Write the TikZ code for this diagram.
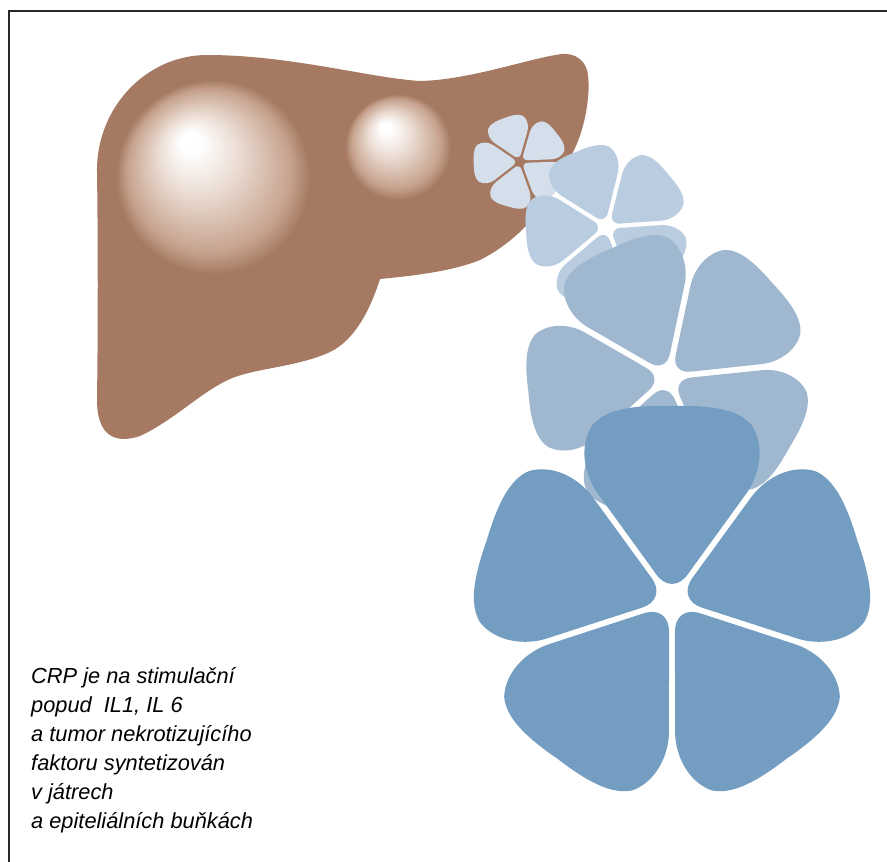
\documentclass[tikz,border=0pt]{standalone}
\usepackage{fontspec}
\setmainfont{Liberation Sans}

\definecolor{liver}{RGB}{166,122,98}
\definecolor{spotmid}{RGB}{236,222,213}
\definecolor{spotout}{RGB}{198,162,142}
\definecolor{pone}{RGB}{213,223,235}
\definecolor{ptwo}{RGB}{185,204,224}
\definecolor{pthree}{RGB}{159,184,208}
\definecolor{pfour}{RGB}{116,157,194}
\definecolor{framec}{RGB}{40,40,40}

% glossy spot on the liver: bright highlight up and to the left;
% the outer stop (25bp) coincides with the rim of the shaded circle
\pgfdeclareradialshading{spot}{\pgfpoint{-6.5bp}{10bp}}{%
  color(0bp)=(white); color(2.5bp)=(white); color(10bp)=(spotmid);
  color(21bp)=(spotout); color(25bp)=(liver)}

% one rounded, triangular subunit; its tip points at the centre of the ring
\newcommand{\petal}[5]{% centre, angle (clockwise from up), scale, outward offset, colour
  \begin{scope}[shift={#1},rotate={-(#2)},scale=#3]
    \fill[#5,shift={(0,-#4)}] (0,-17) .. controls (-6,-17) and (-11,-20) .. (-16,-27)
      -- (-74,-107) .. controls (-86,-124) and (-93,-152) .. (-79,-174)
      .. controls (-65,-191) and (-35,-194) .. (0,-193)
      .. controls (35,-194) and (65,-191) .. (79,-174)
      .. controls (93,-152) and (86,-124) .. (74,-107)
      -- (16,-27) .. controls (11,-20) and (6,-17) .. (0,-17) -- cycle;
  \end{scope}}
% a pentameric ring of five subunits
\newcommand{\pentamer}[5]{%
  \foreach \k in {0,...,4}{\petal{#1}{#2+72*\k}{#3}{#4}{#5}}}

\tikzset{
  caption/.style={anchor=base west, inner sep=0pt, align=left,
    font=\fontsize{21.8}{29}\selectfont\itshape},
  frameline/.style={draw=framec, line width=2pt}
}

\begin{document}
\begin{tikzpicture}[x=1pt,y=-1pt]
\useasboundingbox (0,0) rectangle (887,862);
\fill[white] (0,0) rectangle (887,862);

% liver
\fill[liver] (207,55) .. controls (290,55) and (370,78) .. (420,81)
  .. controls (470,80) and (530,58) .. (562,54)
  .. controls (575,53) and (584,60) .. (587,70)
  .. controls (592,90) and (585,130) .. (573,152)
  .. controls (555,200) and (520,240) .. (480,260)
  .. controls (450,272) and (410,276) .. (380,279)
  .. controls (370,310) and (355,340) .. (330,352)
  .. controls (300,366) and (260,368) .. (235,377)
  .. controls (205,388) and (175,420) .. (140,436)
  .. controls (110,446) and (97,430) .. (97,400)
  .. controls (98,330) and (98,240) .. (97,172)
  .. controls (96,108) and (146,55) .. (207,55) -- cycle;

% glossy spots
\shade[shading=spot] (213,177) circle[radius=97];
\shade[shading=spot] (398,147) circle[radius=53];

% CRP pentamers, from the smallest to the largest
\pentamer{(520,161.7)}{-20}{0.235}{4}{pone}
\pentamer{(606.7,226.7)}{-22}{0.41}{4}{ptwo}
\pentamer{(668,377)}{-24}{0.72}{2}{pthree}
\pentamer{(672,601)}{0}{1.01}{0}{pfour}

% caption (the anchor is the baseline of the last line)
\node[caption] (txt) at (31,828.5) {CRP je na stimulační\\popud~ IL1, IL 6\\a tumor nekrotizujícího\\faktoru syntetizován\\v játrech\\a epiteliálních buňkách};

% frame
\draw[frameline] (8.7,862) -- (8.7,10.5) -- (887,10.5);
\end{tikzpicture}
\end{document}
